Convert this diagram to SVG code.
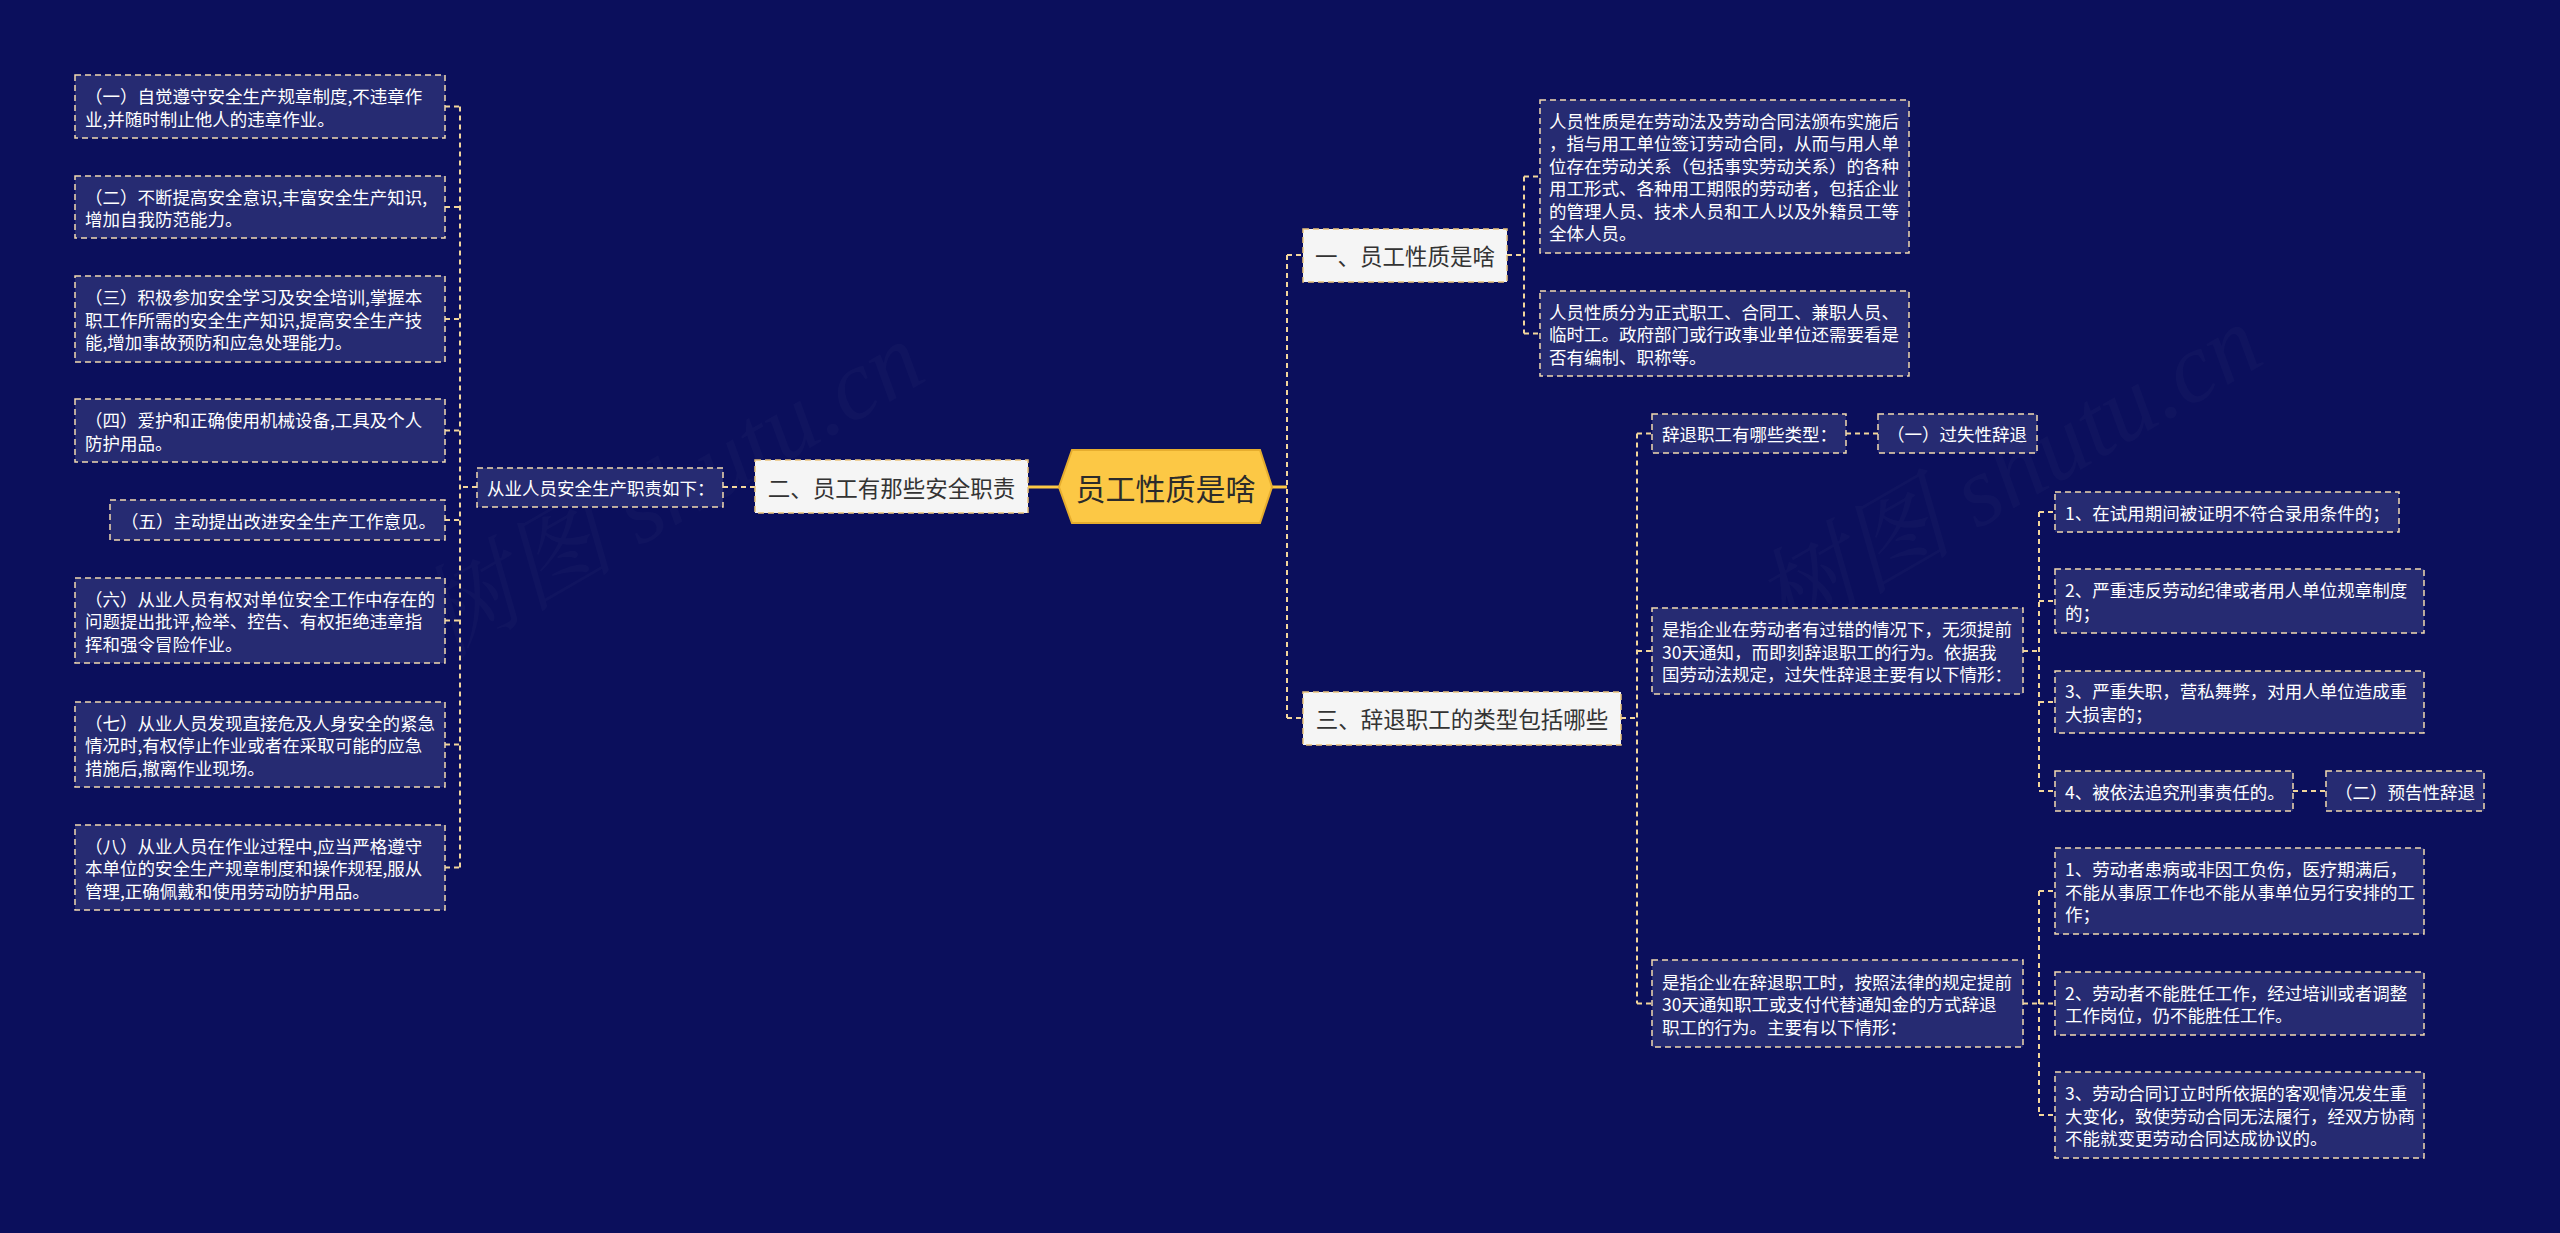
<svg xmlns="http://www.w3.org/2000/svg" width="2560" height="1233" viewBox="0 0 2560 1233">
<style>
text{font-family:"Noto Sans CJK SC","Noto Sans",sans-serif;dominant-baseline:central}
.bg{fill:#0b0f5c}
.box{fill:#262b72;stroke:#f2dab0;stroke-width:1.5;stroke-dasharray:6 4}
.t{fill:#ffffff;font-size:17.5px}
.l1{fill:#f5f5f5;stroke:#e9c27a;stroke-width:1.5;stroke-dasharray:6 4}
.t1{fill:#333333;font-size:22.5px}
.c{fill:none;stroke:#f2d69c;stroke-width:2;stroke-dasharray:5 4}
.s{fill:none;stroke:#fcc845;stroke-width:3}
.wm{fill:#ffffff;fill-opacity:0.025;font-family:"Liberation Serif","Noto Serif CJK SC",serif;font-style:italic;font-size:100px}
</style>
<rect class="bg" x="0" y="0" width="2560" height="1233"/>
<text class="wm" transform="translate(670,490) rotate(-30)" text-anchor="middle">树图 shutu.cn</text>
<text class="wm" transform="translate(2008,473) rotate(-30)" text-anchor="middle">树图 shutu.cn</text>

<g id="connectors">
  <path class="s" d="M1272,487 H1287"/>
  <path class="s" d="M1059,487 H1028"/>
  <path class="c" d="M1287,255 V718 M1287,255 H1303 M1287,718 H1303"/>
  <path class="c" d="M755,487 H723"/>
  <path class="c" d="M477,487 H460 M460,106.5 V867.5 M445,106.5 H460 M445,207 H460 M445,319 H460 M445,430.5 H460 M445,520 H460 M445,620.5 H460 M445,744.5 H460 M445,867.5 H460"/>
  <path class="c" d="M1507,255 H1524 M1524,176.5 V333.5 M1524,176.5 H1540 M1524,333.5 H1540"/>
  <path class="c" d="M1621,718 H1637 M1637,433.5 V1003.5 M1637,433.5 H1652 M1637,651 H1652 M1637,1003.5 H1652"/>
  <path class="c" d="M1846,433.5 H1878"/>
  <path class="c" d="M2023,651 H2039 M2039,512 V791 M2039,512 H2055 M2039,601 H2055 M2039,702 H2055 M2039,791 H2055"/>
  <path class="c" d="M2293,791 H2326"/>
  <path class="c" d="M2023,1003.5 H2039 M2039,891 V1115 M2039,891 H2055 M2039,1003.5 H2055 M2039,1115 H2055"/>
</g>

<g id="root">
  <polygon points="1059,487 1072,450 1260,450 1272,487 1260,523 1072,523" fill="#fcc845" stroke="#e6ad2e" stroke-width="2"/>
  <text x="1165.5" y="487" text-anchor="middle" font-size="30" fill="#2b2b2b">员工性质是啥</text>
</g>

<g id="n-er">
  <rect class="l1" x="755" y="460" width="273" height="53"/>
  <text class="t1" x="891.5" y="487" text-anchor="middle">二、员工有那些安全职责</text>
</g>
<g id="n-yi">
  <rect class="l1" x="1303" y="229" width="204" height="53"/>
  <text class="t1" x="1405" y="255" text-anchor="middle">一、员工性质是啥</text>
</g>
<g id="n-san">
  <rect class="l1" x="1303" y="692" width="318" height="53"/>
  <text class="t1" x="1462" y="718" text-anchor="middle">三、辞退职工的类型包括哪些</text>
</g>

<g id="n-congye">
  <rect class="box" x="477" y="468" width="246" height="39"/>
  <text class="t" x="487" y="487.5">从业人员安全生产职责如下：</text>
</g>

<g id="l1">
  <rect class="box" x="75" y="75" width="370" height="63"/>
  <text class="t" x="85" y="95.5">（一）自觉遵守安全生产规章制度,不违章作</text>
  <text class="t" x="85" y="118">业,并随时制止他人的违章作业。</text>
</g>
<g id="l2">
  <rect class="box" x="75" y="176" width="370" height="62"/>
  <text class="t" x="85" y="196">（二）不断提高安全意识,丰富安全生产知识,</text>
  <text class="t" x="85" y="218.5">增加自我防范能力。</text>
</g>
<g id="l3">
  <rect class="box" x="75" y="276" width="370" height="86"/>
  <text class="t" x="85" y="296.5">（三）积极参加安全学习及安全培训,掌握本</text>
  <text class="t" x="85" y="319">职工作所需的安全生产知识,提高安全生产技</text>
  <text class="t" x="85" y="341.5">能,增加事故预防和应急处理能力。</text>
</g>
<g id="l4">
  <rect class="box" x="75" y="399" width="370" height="63"/>
  <text class="t" x="85" y="419.5">（四）爱护和正确使用机械设备,工具及个人</text>
  <text class="t" x="85" y="442">防护用品。</text>
</g>
<g id="l5">
  <rect class="box" x="110" y="500" width="335" height="40"/>
  <text class="t" x="121" y="520">（五）主动提出改进安全生产工作意见。</text>
</g>
<g id="l6">
  <rect class="box" x="75" y="578" width="370" height="85"/>
  <text class="t" x="85" y="598">（六）从业人员有权对单位安全工作中存在的</text>
  <text class="t" x="85" y="620.5">问题提出批评,检举、控告、有权拒绝违章指</text>
  <text class="t" x="85" y="643">挥和强令冒险作业。</text>
</g>
<g id="l7">
  <rect class="box" x="75" y="702" width="370" height="85"/>
  <text class="t" x="85" y="722">（七）从业人员发现直接危及人身安全的紧急</text>
  <text class="t" x="85" y="744.5">情况时,有权停止作业或者在采取可能的应急</text>
  <text class="t" x="85" y="767">措施后,撤离作业现场。</text>
</g>
<g id="l8">
  <rect class="box" x="75" y="825" width="370" height="85"/>
  <text class="t" x="85" y="845">（八）从业人员在作业过程中,应当严格遵守</text>
  <text class="t" x="85" y="867.5">本单位的安全生产规章制度和操作规程,服从</text>
  <text class="t" x="85" y="890">管理,正确佩戴和使用劳动防护用品。</text>
</g>

<g id="r-yi-1">
  <rect class="box" x="1540" y="100" width="369" height="153"/>
  <text class="t" x="1549" y="120.25">人员性质是在劳动法及劳动合同法颁布实施后</text>
  <text class="t" x="1549" y="142.75">，指与用工单位签订劳动合同，从而与用人单</text>
  <text class="t" x="1549" y="165.25">位存在劳动关系（包括事实劳动关系）的各种</text>
  <text class="t" x="1549" y="187.75">用工形式、各种用工期限的劳动者，包括企业</text>
  <text class="t" x="1549" y="210.25">的管理人员、技术人员和工人以及外籍员工等</text>
  <text class="t" x="1549" y="232.75">全体人员。</text>
</g>
<g id="r-yi-2">
  <rect class="box" x="1540" y="291" width="369" height="85"/>
  <text class="t" x="1549" y="311">人员性质分为正式职工、合同工、兼职人员、</text>
  <text class="t" x="1549" y="333.5">临时工。政府部门或行政事业单位还需要看是</text>
  <text class="t" x="1549" y="356">否有编制、职称等。</text>
</g>

<g id="r-types">
  <rect class="box" x="1652" y="414" width="194" height="39"/>
  <text class="t" x="1662" y="433.5">辞退职工有哪些类型：</text>
</g>
<g id="r-guoshi">
  <rect class="box" x="1878" y="414" width="159" height="39"/>
  <text class="t" x="1887" y="433.5">（一）过失性辞退</text>
</g>
<g id="r-guocuo">
  <rect class="box" x="1652" y="608" width="371" height="86"/>
  <text class="t" x="1662" y="628.5">是指企业在劳动者有过错的情况下，无须提前</text>
  <text class="t" x="1662" y="651">30天通知，而即刻辞退职工的行为。依据我</text>
  <text class="t" x="1662" y="673.5">国劳动法规定，过失性辞退主要有以下情形：</text>
</g>
<g id="r-g1">
  <rect class="box" x="2055" y="492" width="344" height="40"/>
  <text class="t" x="2065" y="512">1、在试用期间被证明不符合录用条件的；</text>
</g>
<g id="r-g2">
  <rect class="box" x="2055" y="569" width="369" height="64"/>
  <text class="t" x="2065" y="589.75">2、严重违反劳动纪律或者用人单位规章制度</text>
  <text class="t" x="2065" y="612.25">的；</text>
</g>
<g id="r-g3">
  <rect class="box" x="2055" y="671" width="369" height="62"/>
  <text class="t" x="2065" y="690.75">3、严重失职，营私舞弊，对用人单位造成重</text>
  <text class="t" x="2065" y="713.25">大损害的；</text>
</g>
<g id="r-g4">
  <rect class="box" x="2055" y="771" width="238" height="40"/>
  <text class="t" x="2065" y="791">4、被依法追究刑事责任的。</text>
</g>
<g id="r-yugao">
  <rect class="box" x="2326" y="771" width="158" height="40"/>
  <text class="t" x="2335" y="791">（二）预告性辞退</text>
</g>
<g id="r-citui">
  <rect class="box" x="1652" y="960" width="371" height="87"/>
  <text class="t" x="1662" y="981">是指企业在辞退职工时，按照法律的规定提前</text>
  <text class="t" x="1662" y="1003.5">30天通知职工或支付代替通知金的方式辞退</text>
  <text class="t" x="1662" y="1026">职工的行为。主要有以下情形：</text>
</g>
<g id="r-c1">
  <rect class="box" x="2055" y="848" width="369" height="86"/>
  <text class="t" x="2065" y="868.5">1、劳动者患病或非因工负伤，医疗期满后，</text>
  <text class="t" x="2065" y="891">不能从事原工作也不能从事单位另行安排的工</text>
  <text class="t" x="2065" y="913.5">作；</text>
</g>
<g id="r-c2">
  <rect class="box" x="2055" y="972" width="369" height="63"/>
  <text class="t" x="2065" y="992.25">2、劳动者不能胜任工作，经过培训或者调整</text>
  <text class="t" x="2065" y="1014.75">工作岗位，仍不能胜任工作。</text>
</g>
<g id="r-c3">
  <rect class="box" x="2055" y="1072" width="369" height="86"/>
  <text class="t" x="2065" y="1092.5">3、劳动合同订立时所依据的客观情况发生重</text>
  <text class="t" x="2065" y="1115">大变化，致使劳动合同无法履行，经双方协商</text>
  <text class="t" x="2065" y="1137.5">不能就变更劳动合同达成协议的。</text>
</g>
</svg>
